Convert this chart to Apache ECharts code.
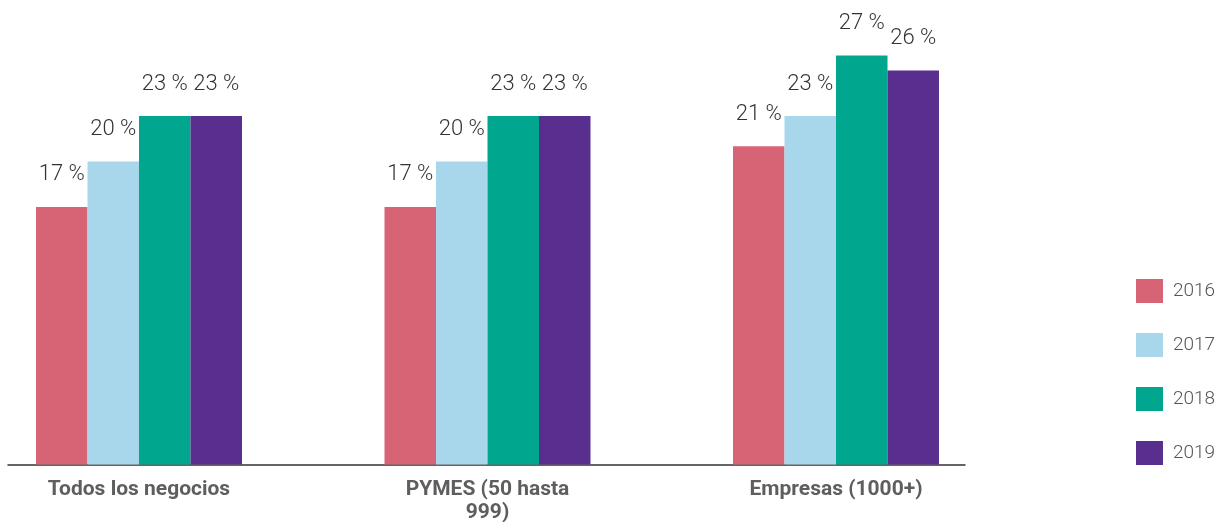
<!DOCTYPE html>
<html>
<head>
<meta charset="utf-8">
<script src="https://cdn.jsdelivr.net/npm/echarts@6/dist/echarts.min.js"></script>
<style>html,body{margin:0;padding:0;background:#fff}#c{width:1224px;height:522px}</style>
</head>
<body>
<div id="c"></div>
<script>
const categories = ['Todos los negocios', 'PYMES (50 hasta\n999)', 'Empresas (1000+)'];
const years = ['2016', '2017', '2018', '2019'];
const v2016 = [17, 17, 21];
const v2017 = [20, 20, 23];
const v2018 = [23, 23, 27];
const v2019 = [23, 23, 26];
const colors = ['#d66474', '#a8d7ec', '#00a68d', '#582f8f'];

const seriesValues = [v2016, v2017, v2018, v2019];
const chart = echarts.init(document.getElementById('c'), null, {renderer: 'canvas'});
chart.setOption({
  animation: false,
  color: colors,
  legend: {
    orient: 'vertical',
    left: 1136,
    top: 279,
    padding: 0,
    itemWidth: 27,
    itemHeight: 24,
    itemGap: 30,
    icon: 'rect',
    data: years,
    textStyle: {fontFamily: 'Roboto', fontWeight: 300, fontSize: 19, color: '#555', padding: [0, 0, 0, 5]}
  },
  grid: [
    {left: -35.25, width: 1045.5, top: 10, bottom: 57.5, containLabel: false, outerBoundsMode: 'none'},
    {left: 8, width: 957, top: 10, bottom: 57.5, containLabel: false, outerBoundsMode: 'none'}
  ],
  xAxis: [
    {
      type: 'category', gridIndex: 0, data: categories,
      axisLine: {show: false}, axisTick: {show: false},
      axisLabel: {fontFamily: 'Roboto', fontWeight: 'bold', fontSize: 21, color: '#5e5e5e', margin: 14, lineHeight: 23, interval: 0}
    },
    {
      type: 'value', gridIndex: 1, min: 0, max: 1,
      axisLine: {show: true, lineStyle: {color: '#333', width: 1.5}},
      axisTick: {show: false}, axisLabel: {show: false}, splitLine: {show: false}
    }
  ],
  yAxis: [
    {type: 'value', gridIndex: 0, min: 0, max: 30, show: false, splitLine: {show: false}},
    {type: 'value', gridIndex: 1, min: 0, max: 1, show: false, splitLine: {show: false}}
  ],
  series: seriesValues.map((vals, i) => ({
    name: years[i],
    type: 'bar',
    xAxisIndex: 0, yAxisIndex: 0,
    data: vals,
    barWidth: 51.5,
    barGap: '0%',
    label: {
      show: true, position: 'top', distance: 21,
      formatter: '{c} %',
      fontFamily: 'Roboto', fontWeight: 300, fontSize: 22, color: '#333'
    }
  }))
});
</script>
</body>
</html>
